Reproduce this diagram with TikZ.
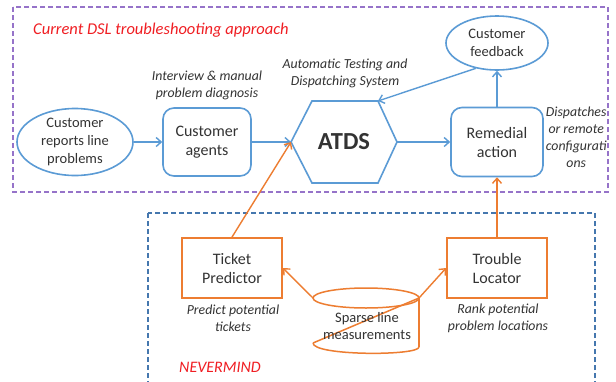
\documentclass[tikz,border=0pt]{standalone}
\usepackage{fontspec}
\setmainfont{Carlito}
\usetikzlibrary{shapes.geometric,arrows.meta}
\definecolor{cblue}{HTML}{5B9BD5}
\definecolor{corange}{HTML}{ED7D31}
\definecolor{cpurple}{HTML}{9673C9}
\definecolor{dblue}{HTML}{4577AE}
\definecolor{cred}{HTML}{F01E23}
\definecolor{ctext}{HTML}{333333}
\tikzset{
  bluebox/.style={draw=cblue, line width=1.6pt, rounded corners=11pt, minimum width=88pt, minimum height=68pt, align=center, text=ctext, font=\fontsize{16}{19}\selectfont},
  blueell/.style={draw=cblue, line width=1.6pt, ellipse, inner sep=0pt},
  ellfont/.style={align=center, text=ctext, font=\fontsize{14.5}{17.7}\selectfont},
  orbox/.style={draw=corange, line width=1.8pt, minimum width=100pt, minimum height=60pt, align=center, text=ctext, font=\fontsize{16}{19}\selectfont},
  lbl/.style={align=center, text=ctext, font=\fontsize{13.8}{17}\selectfont\itshape},
  redlbl/.style={text=cred, font=\fontsize{16.5}{19}\selectfont\itshape, anchor=west, inner sep=0pt},
  barrow/.style={draw=cblue, line width=1.4pt, -{Straight Barb[length=5pt,width=9pt]}},
  oarrow/.style={draw=corange, line width=1.4pt, -{Straight Barb[length=5pt,width=9pt]}},
  oline/.style={draw=corange, line width=1.5pt},
  hexline/.style={draw=cblue, line width=1.6pt},
}
\begin{document}
\begin{tikzpicture}[x=1pt,y=-1pt]
\useasboundingbox (0,0) rectangle (616,381);
\clip (0,0) rectangle (616,381);
\fill[white] (0,0) rectangle (616,381);
% frames
\draw[cpurple, line width=1.3pt, dash pattern=on 5pt off 3pt] (13,7) rectangle (608,192);
\draw[dblue, line width=1.3pt, dash pattern=on 5pt off 3pt] (148,213) rectangle (595,400);
\node[redlbl] (title) at (33,30) {Current DSL troubleshooting approach};
\node[redlbl, font=\fontsize{16}{19}\selectfont\itshape] (nvm) at (179,367) {NEVERMIND};

% customer ellipse
\node[blueell, minimum width=116pt, minimum height=67pt] (cust) at (75,142) {};
\node[ellfont] (custt) at (cust) {Customer\\reports line\\problems};
% agents
\node[bluebox] (agents) at (207,142) {Customer\\agents};
\node[lbl] (agl) at (207,85) {Interview \& manual\\problem diagnosis};
% hexagon
\coordinate (hL) at (291,142);
\coordinate (hTL) at (312,101);
\coordinate (hTR) at (378,101);
\coordinate (hR) at (397,142);
\coordinate (hBR) at (378,183);
\coordinate (hBL) at (312,183);
\draw[hexline] (hL) -- (hTL) -- (hTR) -- (hR) -- (hBR) -- (hBL) -- cycle;
\node[text=ctext, font=\fontsize{24.5}{28}\selectfont\bfseries] (atds) at (344,142) {ATDS};
\node[lbl] (atl) at (345,73) {Automatic Testing and\\Dispatching System};
% remedial
\node[bluebox, minimum width=92pt, minimum height=69pt] (rem) at (497,142) {Remedial\\action};
\node[lbl, anchor=west, align=left, inner sep=0pt] (reml) at (545,137.5) {\makebox[62pt][c]{Dispatches}\\\makebox[62pt][c]{or remote}\\\makebox[62pt][c]{configurati}\\\makebox[62pt][c]{ons}};
% feedback
\node[blueell, minimum width=102pt, minimum height=54pt] (fb) at (497,43) {};
\node[ellfont] (fbt) at (fb) {Customer\\feedback};

% blue arrows
\draw[barrow] (cust.east) -- (agents.west);
\draw[barrow] (agents.east) -- (hL);
\draw[barrow] (hR) -- (rem.west);
\draw[barrow] (rem.north) -- (fb.south);
\draw[barrow] (fb.-130) -- (hTR);

% orange boxes
\node[orbox] (tp) at (232,268) {Ticket\\Predictor};
\node[orbox] (tl) at (497,268) {Trouble\\Locator};
\node[lbl] (tpl) at (233,318.5) {Predict potential\\tickets};
\node[lbl] (tll) at (498,318.5) {Rank potential\\problem locations};

% cylinder
\coordinate (cTL) at (313,298);
\coordinate (cTR) at (419,298);
\coordinate (cBL) at (313,343);
\coordinate (cBR) at (419,347);
\draw[oline] (366,298) ellipse [x radius=53pt, y radius=10pt];
\draw[oline] (cTR) -- (cBR);
\draw[oline] (cTR) -- (cBL);
\draw[oline] (cBL) .. controls (313,356) and (419,356) .. (cBR);
\node[ellfont] (sparse) at (367,326) {Sparse line\\measurements};

% orange arrows
\draw[oarrow] (cTL) -- (tp.east);
\draw[oarrow] (cTR) -- (tl.west);
\draw[oarrow] (tp.north) -- (hL);
\draw[oarrow] (tl.north) -- (rem.south);
\end{tikzpicture}
\end{document}
